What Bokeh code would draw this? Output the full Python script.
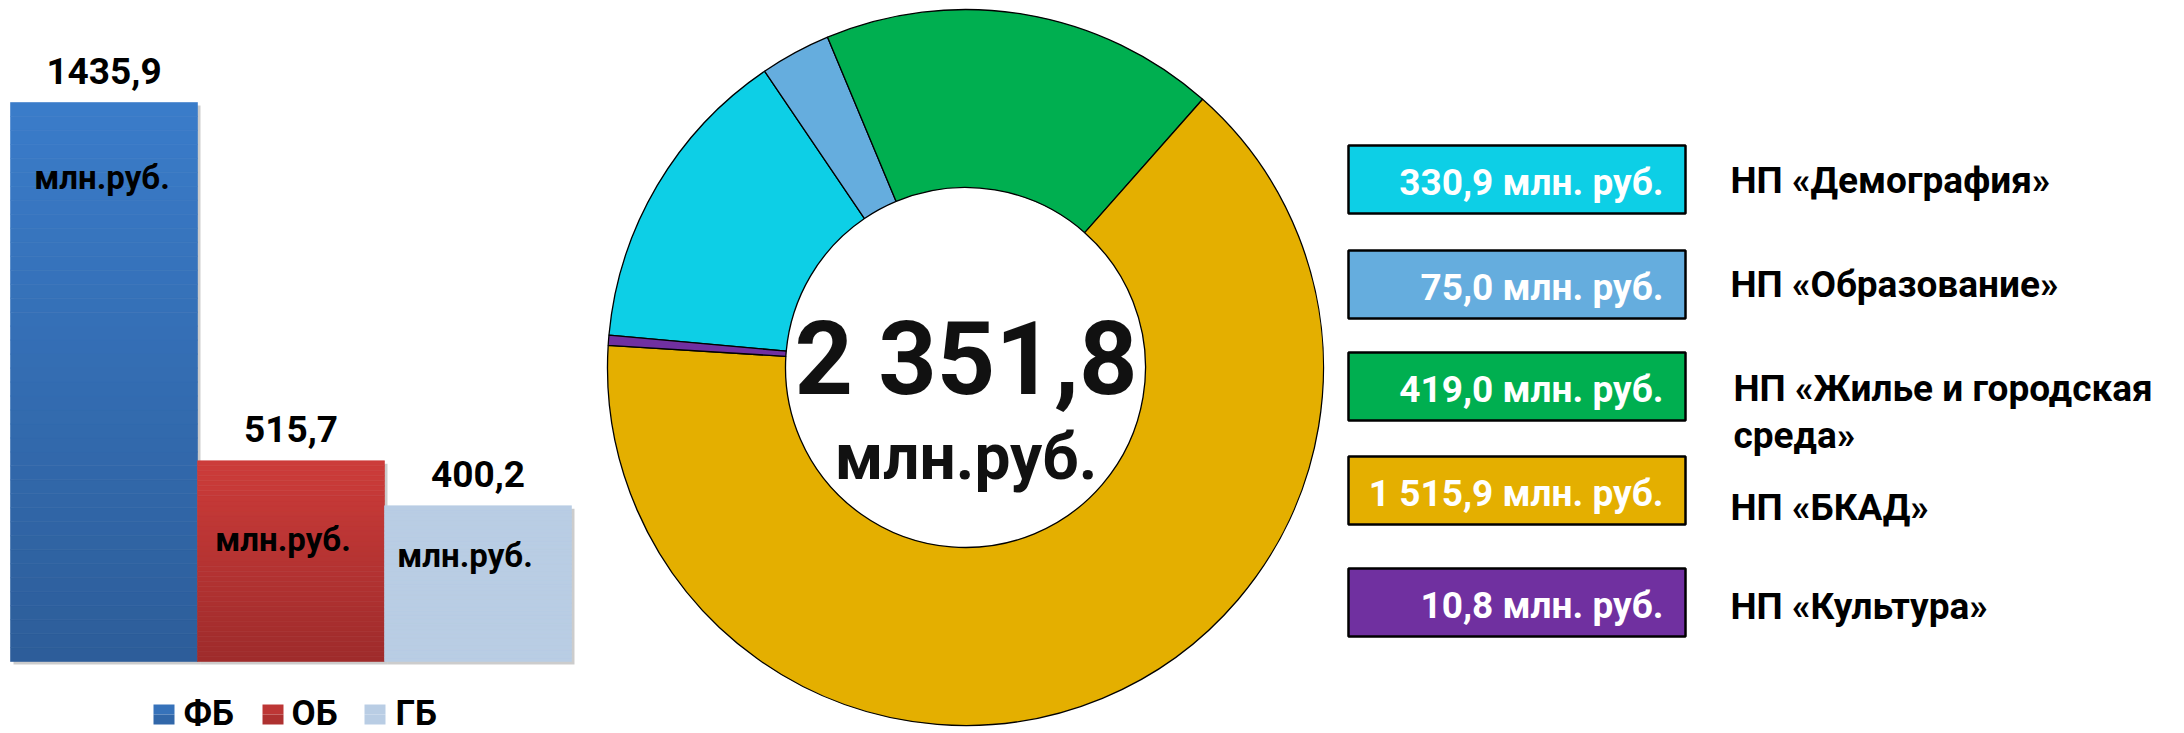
import math
from bokeh.plotting import figure
from bokeh.models import Range1d, ColumnDataSource
from bokeh.embed import file_html
from bokeh.resources import INLINE
from bokeh.core.properties import value

# ---------------- data ----------------
bar_categories = ["ФБ", "ОБ", "ГБ"]
bar_values = [1435.9, 515.7, 400.2]
bar_value_labels = ["1435,9", "515,7", "400,2"]
bar_unit_label = "млн.руб."

np_names = ["НП «Демография»", "НП «Образование»", "НП «Жилье и городская\nсреда»",
            "НП «БКАД»", "НП «Культура»"]
np_values = [330.9, 75.0, 419.0, 1515.9, 10.8]
np_value_labels = ["330,9 млн. руб.", "75,0 млн. руб.", "419,0 млн. руб.",
                   "1 515,9 млн. руб.", "10,8 млн. руб."]
total_label = "2 351,8"
total_unit = "млн.руб."

# ---------------- styles ----------------
FONT = value("Roboto")
bar_top_colors = [(58, 124, 202), (205, 60, 58), (185, 205, 228)]
bar_bottom_colors = [(45, 93, 153), (158, 43, 43), (185, 205, 228)]
np_colors = ["#0DCFE6", "#65ADDE", "#00AF50", "#E4AF00", "#7030A0"]

W, H = 2184, 733
BASE_FIX = 0.31  # empirical baseline correction (fraction of font size)


def X(px):
    return px


def Y(py):
    return H - py


def TY(py, fs):
    return Y(py - BASE_FIX * fs)


def hexc(c):
    return "#%02x%02x%02x" % tuple(int(round(v)) for v in c)


p = figure(width=W, height=H, x_range=Range1d(0, W), y_range=Range1d(0, H),
           x_axis_type=None, y_axis_type=None, toolbar_location=None,
           output_backend="svg", min_border=0, outline_line_color=None,
           background_fill_color="white", border_fill_color="white")
p.grid.visible = False

# ---------------- bar chart ----------------
BAR_LEFT_PX, BAR_W_PX, BAR_BASE_PY, BAR_TOP_PY = 10, 187, 661, 102
ppu = (BAR_BASE_PY - BAR_TOP_PY) / max(bar_values)
x0_fig = X(BAR_LEFT_PX + BAR_W_PX / 2)
p.extra_x_ranges = {"bx": Range1d(-x0_fig / BAR_W_PX, (W - x0_fig) / BAR_W_PX)}
p.extra_y_ranges = {"by": Range1d(-(H - BAR_BASE_PY) / ppu, BAR_BASE_PY / ppu)}

xs = list(range(len(bar_values)))

# soft shadow
sh_dx = 3 / BAR_W_PX
sh_dy = 3 / ppu
p.vbar(x=[x + sh_dx for x in xs], width=1, top=[v - sh_dy for v in bar_values],
       bottom=-sh_dy, fill_color="#000000", fill_alpha=0.2, line_color=None,
       x_range_name="bx", y_range_name="by")

# gradient bars made of stacked slices
N = 40
seg = dict(x=[], bottom=[], top=[], color=[])
for i, v in enumerate(bar_values):
    for k in range(N):
        t = (k + 0.5) / N
        c = [bar_bottom_colors[i][j] + (bar_top_colors[i][j] - bar_bottom_colors[i][j]) * t
             for j in range(3)]
        seg["x"].append(xs[i])
        seg["bottom"].append(v * k / N)
        seg["top"].append(v * (k + 1) / N)
        seg["color"].append(hexc(c))
p.vbar(x="x", width=1, bottom="bottom", top="top", fill_color="color",
       line_color="color", line_width=0.6, source=ColumnDataSource(seg),
       x_range_name="bx", y_range_name="by")

# value labels above bars
p.text(x=xs, y=bar_values, text=bar_value_labels, x_range_name="bx", y_range_name="by",
       text_font=FONT, text_font_style="bold", text_font_size="37px",
       text_align="center", text_baseline="alphabetic",
       y_offset=-20 - BASE_FIX * 37, text_color="#000000")

# unit labels inside bars
unit_src = ColumnDataSource(dict(x=xs, y=bar_values, t=[bar_unit_label] * len(xs),
                                 xo=[-2, -8, -13],
                                 yo=[o - BASE_FIX * 33 for o in (85, 89, 60)]))
p.text(x="x", y="y", text="t", x_offset="xo", y_offset="yo", source=unit_src,
       x_range_name="bx", y_range_name="by", text_font=FONT, text_font_style="bold",
       text_font_size="33px", text_align="center", text_baseline="alphabetic",
       text_color="#000000")

# legend for bars (two-tone squares to hint the gradient)
leg_sq_x = [153, 262, 364]
leg_tx_x = [183, 291, 395]
LEG_TOP, LEG_BOT = 704, 724
LEG_MID = (LEG_TOP + LEG_BOT) / 2
p.quad(left=[X(x) for x in leg_sq_x], right=[X(x + 21) for x in leg_sq_x],
       top=Y(LEG_TOP), bottom=Y(LEG_MID),
       fill_color=[hexc([(2 * a + b) / 3 for a, b in zip(bar_top_colors[i], bar_bottom_colors[i])])
                   for i in range(3)], line_color=None)
p.quad(left=[X(x) for x in leg_sq_x], right=[X(x + 21) for x in leg_sq_x],
       top=Y(LEG_MID), bottom=Y(LEG_BOT),
       fill_color=[hexc([(a + 2 * b) / 3 for a, b in zip(bar_top_colors[i], bar_bottom_colors[i])])
                   for i in range(3)], line_color=None)
p.text(x=[X(x) for x in leg_tx_x], y=TY(LEG_BOT, 35), text=bar_categories, text_font=FONT,
       text_font_style="bold", text_font_size="35px", text_align="left",
       text_baseline="alphabetic", text_color="#000000")

# ---------------- donut ----------------
CX, CY, R_OUT, R_IN = X(965), Y(367), 358, 180
total = sum(np_values)
base = math.radians(174.8)
starts, ends = [], []
cum = 0.0
for v in np_values:
    a0 = base - 2 * math.pi * cum / total
    cum += v
    a1 = base - 2 * math.pi * cum / total
    starts.append(a1)
    ends.append(a0)
p.annular_wedge(x=CX, y=CY, inner_radius=R_IN, outer_radius=R_OUT,
                start_angle=starts, end_angle=ends, fill_color=np_colors,
                line_color="#000000", line_width=1.3)

p.text(x=[CX + 0.5], y=[TY(390, 102)], text=[total_label], text_font=FONT,
       text_font_style="bold", text_font_size="102px", text_align="center",
       text_baseline="alphabetic", text_color="#111111")
p.text(x=[CX + 0.5], y=[TY(476.5, 64)], text=[total_unit], text_font=FONT,
       text_font_style="bold", text_font_size="64px", text_align="center",
       text_baseline="alphabetic", text_color="#111111")

# ---------------- value boxes and names ----------------
box_tops = [145, 250, 352, 456, 568]
BOX_H = 68
p.quad(left=X(1348), right=X(1685), top=[Y(t) for t in box_tops],
       bottom=[Y(t + BOX_H) for t in box_tops], fill_color=np_colors,
       line_color="#000000", line_width=2.5)
p.text(x=X(1663), y=[TY(t + 48, 37) for t in box_tops], text=np_value_labels,
       text_font=FONT, text_font_style="bold", text_font_size="37px", text_align="right",
       text_baseline="alphabetic", text_color="#FFFFFF")

name_x = [1730, 1730, 1733, 1730, 1730]
name_base = [191.5, 295.5, 399, 518, 617]
LINE_STEP = 47
lx, ly, lt = [], [], []
for i, name in enumerate(np_names):
    for j, line in enumerate(name.split("\n")):
        lx.append(X(name_x[i]))
        ly.append(TY(name_base[i] + j * LINE_STEP, 37))
        lt.append(line)
p.text(x=lx, y=ly, text=lt, text_font=FONT, text_font_style="bold",
       text_font_size="37px", text_align="left", text_baseline="alphabetic",
       text_color="#000000")

open("out.html", "w").write(file_html(p, INLINE))
